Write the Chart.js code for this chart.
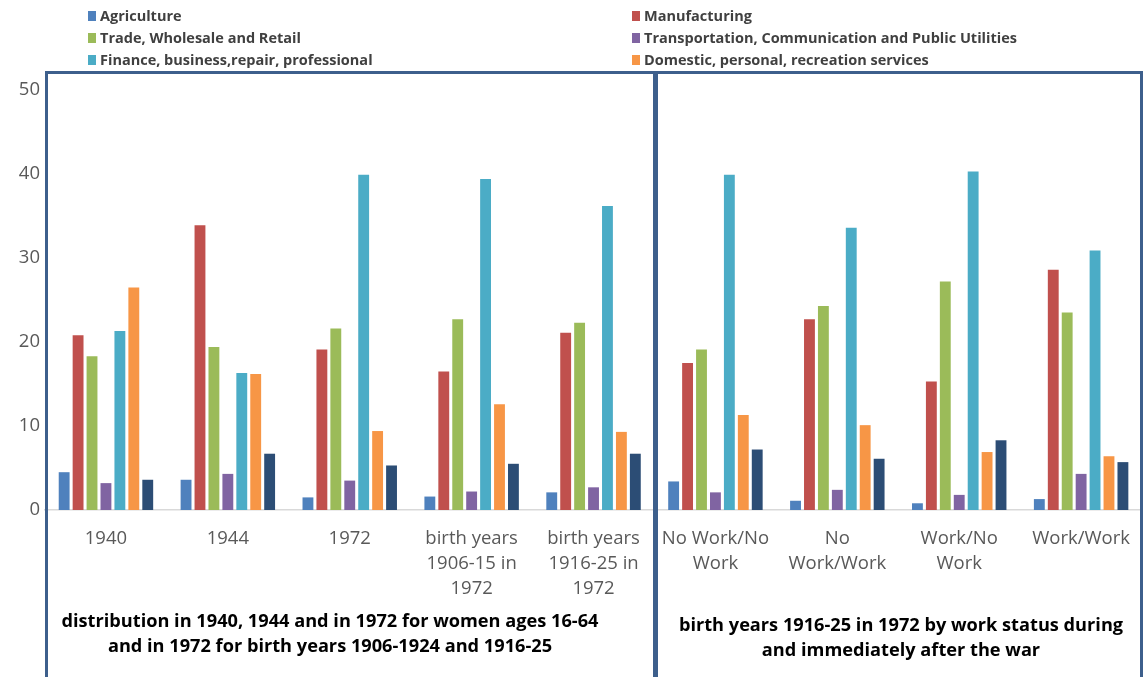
<!DOCTYPE html>
<html>
<head>
<meta charset="utf-8">
<script src="https://cdn.jsdelivr.net/npm/chart.js@4"></script>
<style>
  body { margin: 0; background: #fff; overflow: hidden; }
  #wrap { position: relative; width: 1143px; height: 677px; overflow: hidden; }
  #myChart { position: absolute; left: 0; top: 0; }
  .box { position: absolute; border: 3px solid #3d5f8c; border-bottom: none; }
  .caption { position: absolute; font-family: "Open Sans", sans-serif; font-weight: bold;
             font-size: 18.2px; color: #000; text-align: center; line-height: 25px; white-space: nowrap; }
  .leg { position: absolute; font-family: "Open Sans", sans-serif; font-weight: bold;
         font-size: 14.5px; color: #404040; white-space: nowrap; line-height: 18px; }
  .leg span { display: inline-block; width: 8px; height: 10px; margin-right: 4px; vertical-align: 0px; }
</style>
</head>
<body>
<div id="wrap">
  <canvas id="myChart" width="1146" height="677"></canvas>
  <div class="box" style="left:45px; top:71px; width:605px; height:610px;"></div>
  <div class="box" style="left:655px; top:71px; width:482px; height:610px;"></div>
  <div class="caption" style="left:30px; top:608px; width:600px;">distribution in 1940, 1944 and in 1972 for women ages 16-64<br>and in 1972 for birth years 1906-1924 and 1916-25</div>
  <div class="caption" style="left:651px; top:612px; width:500px;">birth years 1916-25 in 1972 by work status during<br>and immediately after the war</div>
  <div id="legend"></div>
</div>
<script>
// categories (multi-line tick labels)
const categories = [
    '1940',
    '1944',
    '1972',
    ['birth years', '1906-15 in', '1972'],
    ['birth years', '1916-25 in', '1972'],
    ['No Work/No', 'Work'],
    ['No', 'Work/Work'],
    ['Work/No', 'Work'],
    'Work/Work'
];

const agriculture   = [4.5, 3.6, 1.5, 1.6, 2.1, 3.4, 1.1, 0.8, 1.3];
const manufacturing = [20.8, 33.9, 19.1, 16.5, 21.1, 17.5, 22.7, 15.3, 28.6];
const trade         = [18.3, 19.4, 21.6, 22.7, 22.3, 19.1, 24.3, 27.2, 23.5];
const transport     = [3.2, 4.3, 3.5, 2.2, 2.7, 2.1, 2.4, 1.8, 4.3];
const finance       = [21.3, 16.3, 39.9, 39.4, 36.2, 39.9, 33.6, 40.3, 30.9];
const domestic      = [26.5, 16.2, 9.4, 12.6, 9.3, 11.3, 10.1, 6.9, 6.4];
const other         = [3.6, 6.7, 5.3, 5.5, 6.7, 7.2, 6.1, 8.3, 5.7];

const yTicks = [0, 10, 20, 30, 40, 50];

const seriesNames = [
    'Agriculture', 'Manufacturing',
    'Trade, Wholesale and Retail', 'Transportation, Communication and Public Utilities',
    'Finance, business,repair, professional', 'Domestic, personal, recreation services',
    'Other'
];
const colors = ['#4f81bd', '#c0504d', '#9bbb59', '#8064a2', '#4bacc6', '#f79646', '#2c4d75'];
const seriesData = [agriculture, manufacturing, trade, transport, finance, domestic, other];

const ctx = document.getElementById('myChart').getContext('2d');

let myChart = new Chart(ctx, {
    type: 'bar',
    data: {
        labels: categories,
        datasets: seriesData.map((d, i) => ({
            label: seriesNames[i],
            data: d,
            backgroundColor: colors[i],
            borderWidth: 0,
            barPercentage: 0.78,
            categoryPercentage: 0.8
        }))
    },
    options: {
        responsive: false,
        animation: false,
        layout: { padding: { top: 90, right: 0, bottom: 0, left: 0 } },
        plugins: {
            legend: { display: false },
            tooltip: { enabled: false }
        },
        scales: {
            x: {
                afterFit: axis => { axis.height = 167; },
                grid: { display: false, drawTicks: false },
                border: { display: true, color: '#d9d9d9', width: 1.5 },
                ticks: {
                    color: '#595959',
                    font: { family: 'Open Sans', size: 18.5, lineHeight: 1.35 },
                    padding: 16,
                    maxRotation: 0,
                    autoSkip: false
                }
            },
            y: {
                min: 0,
                max: 50,
                afterFit: axis => { axis.width = 45; },
                afterBuildTicks: axis => { axis.ticks = yTicks.map(v => ({ value: v })); },
                grid: { display: false, drawTicks: false },
                border: { display: false },
                ticks: {
                    color: '#595959',
                    font: { family: 'Open Sans', size: 18.5 },
                    padding: 5
                }
            }
        }
    }
});

// legend in two columns, built from the datasets (the last series has no entry)
const legendEl = document.getElementById('legend');
seriesNames.slice(0, 6).forEach((name, i) => {
    const col = i % 2, row = Math.floor(i / 2);
    legendEl.innerHTML += `<div class="leg" style="left:${col ? 632 : 88}px; top:${7 + row * 22}px;">
        <span style="background:${colors[i]}"></span>${name}</div>`;
});
</script>
</body>
</html>
